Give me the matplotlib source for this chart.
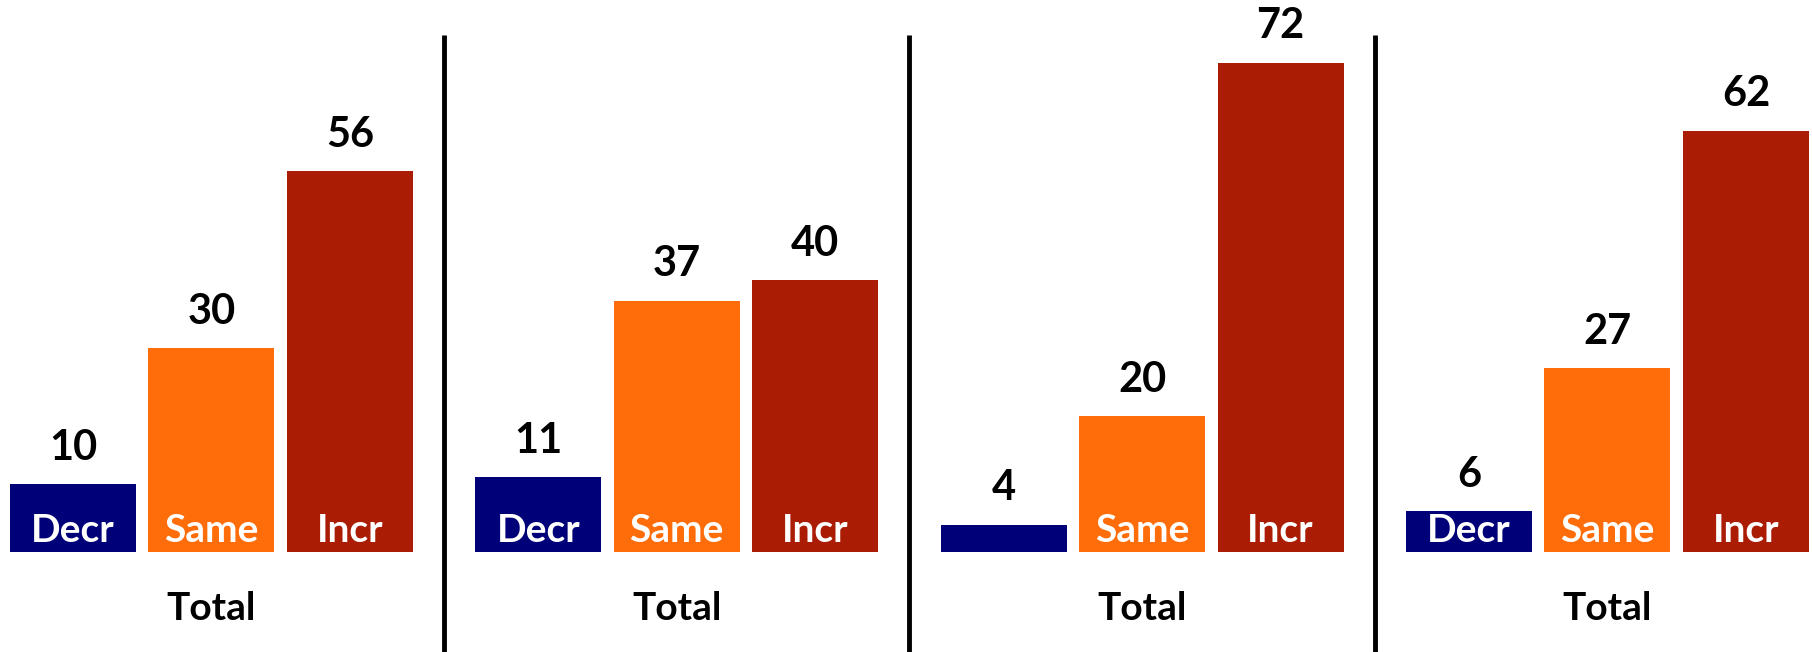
import numpy as np
import matplotlib.pyplot as plt

plt.rcParams['font.family'] = ['Lato', 'DejaVu Sans']

# data
categories = ['Decr', 'Same', 'Incr']
group_names = ['Total', 'Total', 'Total', 'Total']
values = [
    [10, 30, 56],
    [11, 37, 40],
    [4, 20, 72],
    [6, 27, 62],
]
colors = ['#000078', '#FF6C0A', '#AA1C04']

group_step = 3.36
bar_w = 0.91

fig = plt.figure(figsize=(18.12, 6.52), dpi=100)
ax = fig.add_axes([0, 0, 1, 1])

for g, vals in enumerate(values):
    base = g * group_step
    for j, v in enumerate(vals):
        x = base + j
        ax.bar(x, v, bar_w, color=colors[j])
        ax.text(x, v + 3.6, str(v), ha='center', va='baseline',
                fontsize=30, fontweight='bold', color='black')
        # category label inside bar, skipped where the bar is too short
        if v >= 6:
            ax.text(x, 1.5, categories[j], ha='center', va='baseline',
                    fontsize=28, fontweight='bold', color='white')
    ax.text(base + 1, -10.0, group_names[g], ha='center', va='baseline',
            fontsize=28, fontweight='bold', color='black')

# separators between groups
for g in range(1, len(values)):
    xd = g * group_step - (group_step - 2) / 2
    ax.vlines(xd, -15, 76, color='black', linewidth=3.5)

ax.set_xlim(-0.527, 12.557)
ax.set_ylim(-14.7, 81.2)
ax.axis('off')

fig.savefig('out.png', dpi=100, facecolor='white')
